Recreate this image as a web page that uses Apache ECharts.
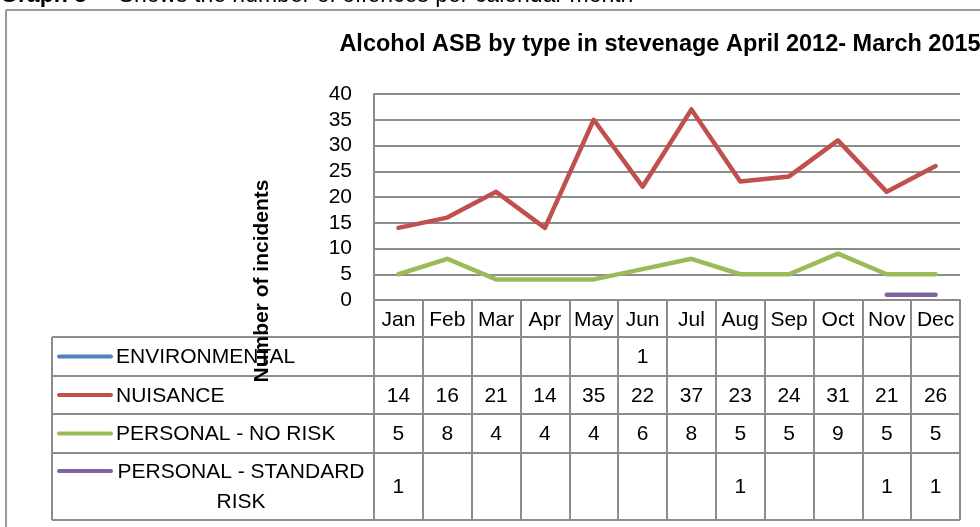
<!DOCTYPE html>
<html lang="en">
<head>
    <meta charset="UTF-8">
    <title>Alcohol ASB by type</title>
    <script src="https://cdn.jsdelivr.net/npm/echarts@6/dist/echarts.min.js"></script>
    <style>
        body{ margin:0; background:#fff; }
        #chart{ width:980px; height:527px; }
    </style>
</head>
<body>
    <div id="chart"></div>
    <script>
        var months = ['Jan', 'Feb', 'Mar', 'Apr', 'May', 'Jun', 'Jul', 'Aug', 'Sep', 'Oct', 'Nov', 'Dec'];
        var environmental = [null, null, null, null, null, 1, null, null, null, null, null, null];
        var nuisance = [14, 16, 21, 14, 35, 22, 37, 23, 24, 31, 21, 26];
        var personalNoRisk = [5, 8, 4, 4, 4, 6, 8, 5, 5, 9, 5, 5];
        var personalStandard = [1, null, null, null, null, null, null, 1, null, null, 1, 1];
        var yTicks = [0, 5, 10, 15, 20, 25, 30, 35, 40];

        var seriesNames = ['ENVIRONMENTAL', 'NUISANCE', 'PERSONAL - NO RISK', 'PERSONAL - STANDARD\nRISK'];
        var seriesData = [environmental, nuisance, personalNoRisk, personalStandard];
        var colors = ['#4F81BD', '#C0504D', '#9BBB59', '#8064A2'];

        var font = '"Liberation Sans", Arial, sans-serif';
        var gridCol = '#8c8c8c';

        // table geometry (rows under the plot)
        var rowEdges = [301, 337, 376, 414, 453, 520];
        var tableLeft = 52, plotLeft = 374, plotRight = 960;

        var chart = echarts.init(document.getElementById('chart'));

        var option = {
            animation: false,
            textStyle: { fontFamily: font },
            grid: { left: plotLeft, right: 980 - plotRight, top: 94, bottom: 527 - 300 },
            xAxis: {
                type: 'category',
                data: months,
                boundaryGap: true,
                axisLine: { lineStyle: { color: gridCol, width: 2 } },
                axisTick: { show: true, interval: 0, length: 219, lineStyle: { color: gridCol, width: 2 } },
                axisLabel: { interval: 0, color: '#000', fontSize: 21, fontFamily: font, margin: 10 }
            },
            yAxis: {
                type: 'value',
                min: 0,
                max: 40,
                interval: 5,
                axisLine: { show: true, lineStyle: { color: gridCol, width: 2 } },
                axisTick: { show: false },
                splitLine: { lineStyle: { color: gridCol, width: 2 } },
                axisLabel: {
                    color: '#000', fontSize: 21, fontFamily: font, margin: 22,
                    formatter: function (v) { return yTicks.indexOf(v) >= 0 ? String(v) : ''; }
                }
            },
            series: seriesData.map(function (d, i) {
                return {
                    name: seriesNames[i],
                    type: 'line',
                    data: d,
                    showSymbol: false,
                    symbol: 'none',
                    connectNulls: false,
                    lineStyle: { color: colors[i], width: 4.5, cap: 'round', join: 'round' },
                    itemStyle: { color: colors[i] }
                };
            })
        };
        chart.setOption(option);

        // table and page text as graphic elements, positioned from the axis
        var g = [];
        // outer frame
        g.push({ type: 'line', shape: { x1: 6, y1: 10, x2: 980, y2: 10 }, style: { stroke: '#9a9a9a', lineWidth: 2 } });
        g.push({ type: 'line', shape: { x1: 6, y1: 10, x2: 6, y2: 527 }, style: { stroke: '#9a9a9a', lineWidth: 2 } });
        // page caption, partly cut at the top
        g.push({ type: 'text', x: 0, y: -4, style: { text: 'Graph 3', font: 'bold 23px ' + font, fill: '#000', verticalAlign: 'middle' } });
        g.push({ type: 'text', x: 93, y: -4, style: { text: '–  Shows the number of offences per calendar month', font: '23px ' + font, fill: '#000', verticalAlign: 'middle' } });
        // title
        g.push({ type: 'text', x: 660, y: 45, style: { text: 'Alcohol ASB by type in stevenage April 2012- March 2015', font: 'bold 23.5px ' + font, fill: '#000', align: 'center', verticalAlign: 'middle' } });

        // horizontal table lines
        for (var r = 1; r < rowEdges.length; r++) {
            g.push({ type: 'line', shape: { x1: tableLeft, y1: rowEdges[r], x2: plotRight, y2: rowEdges[r] }, style: { stroke: gridCol, lineWidth: 2 } });
        }
        g.push({ type: 'line', shape: { x1: tableLeft, y1: rowEdges[1], x2: tableLeft, y2: rowEdges[5] }, style: { stroke: gridCol, lineWidth: 2 } });
        g.push({ type: 'line', shape: { x1: plotRight, y1: rowEdges[0], x2: plotRight, y2: rowEdges[5] }, style: { stroke: gridCol, lineWidth: 2 } });

        // legend keys + values in each row
        seriesData.forEach(function (d, i) {
            var top = rowEdges[i + 1], bottom = rowEdges[i + 2];
            var mid = (top + bottom) / 2;
            var keyY = i === 3 ? top + 18 : mid;
            g.push({ type: 'line', shape: { x1: 59, y1: keyY, x2: 111, y2: keyY }, style: { stroke: colors[i], lineWidth: 4, lineCap: 'round' } });
            if (i === 3) {
                g.push({ type: 'text', x: 241, y: mid + 1, style: { text: seriesNames[i], font: '21px ' + font, fill: '#000', align: 'center', verticalAlign: 'middle', lineHeight: 30 } });
            } else {
                g.push({ type: 'text', x: 116, y: mid + 1, style: { text: seriesNames[i], font: '21px ' + font, fill: '#000', align: 'left', verticalAlign: 'middle' } });
            }
            d.forEach(function (v, j) {
                if (v == null) return;
                var x = chart.convertToPixel({ xAxisIndex: 0 }, months[j]);
                g.push({ type: 'text', x: x, y: mid + 1, style: { text: String(v), font: '21px ' + font, fill: '#000', align: 'center', verticalAlign: 'middle' } });
            });
        });

        // y axis name, overlapping the table like the original
        g.push({ type: 'text', x: 262, y: 281, rotation: Math.PI / 2, style: { text: 'Number of incidents', font: 'bold 21px ' + font, fill: '#000', align: 'center', verticalAlign: 'middle' } });

        chart.setOption({ graphic: g });
    </script>
</body>
</html>
